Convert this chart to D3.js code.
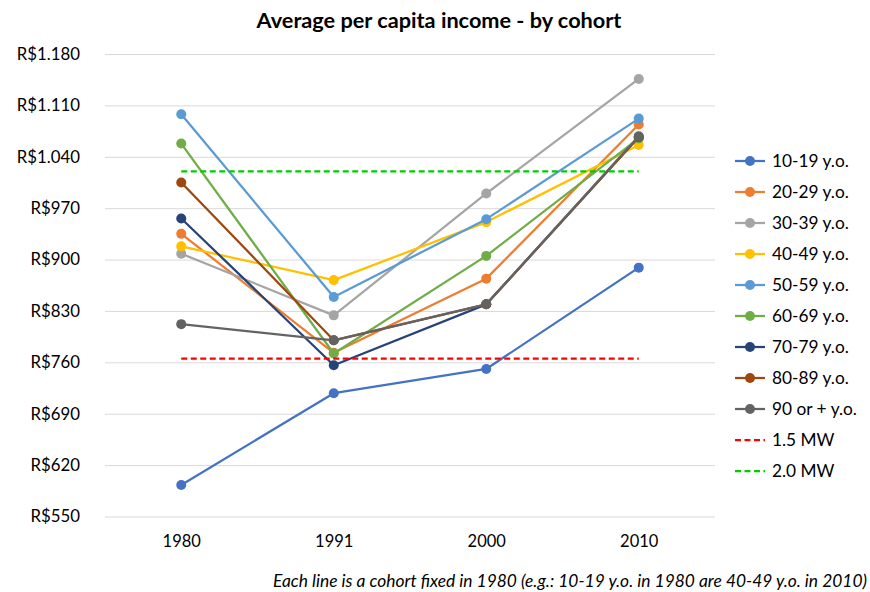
<!DOCTYPE html>
<html>
<head>
<meta charset="utf-8">
<script src="https://cdn.jsdelivr.net/npm/d3@7/dist/d3.min.js"></script>
<style>
  html, body { margin: 0; padding: 0; background: #fff; }
  svg { display: block; font-family: Lato, "Open Sans", sans-serif; }
</style>
</head>
<body>
<svg id="chart" width="870" height="592"></svg>
<script>
// Census years on the x axis
const years = ["1980", "1991", "2000", "2010"];

// Cohorts, labelled by their age in 1980
const cohortNames = ["10-19 y.o.", "20-29 y.o.", "30-39 y.o.", "40-49 y.o.", "50-59 y.o.",
                     "60-69 y.o.", "70-79 y.o.", "80-89 y.o.", "90 or + y.o."];
const cohortColors = ["#4472C4", "#ED7D31", "#A5A5A5", "#FFC000", "#5B9BD5",
                      "#70AD47", "#264478", "#9E480E", "#636363"];

// Average per capita income (R$) of each cohort, per census year
const income10_19 = [593, 718, 751, 889];
const income20_29 = [935, 773, 874, 1084];
const income30_39 = [908, 824, 990, 1146];
const income40_49 = [918, 872, 951, 1056];
const income50_59 = [1098, 849, 955, 1092];
const income60_69 = [1058, 772, 905, 1065];
const income70_79 = [956, 756, 839, 1067];
const income80_89 = [1005, 790, 839, 1067];
const income90plus = [812, 790, 839, 1068];

// Reference levels: multiples of the minimum wage
const refNames = ["1.5 MW", "2.0 MW"];
const refColors = ["#FF0000", "#00CC00"];
const refValues = [765, 1020];

// Y axis ticks
const yTicks = [550, 620, 690, 760, 830, 900, 970, 1040, 1110, 1180];

const cohortValues = [income10_19, income20_29, income30_39, income40_49, income50_59,
                      income60_69, income70_79, income80_89, income90plus];

const svg = d3.select("#chart");
const plot = { left: 105, right: 715, top: 54, bottom: 516.5 };

const x = d3.scalePoint().domain(years).range([plot.left, plot.right]).padding(0.5);
const y = d3.scaleLinear().domain([550, 1180]).range([plot.bottom, plot.top]);

const fmt = v => "R$" + (v >= 1000 ? Math.floor(v / 1000) + "." + String(v % 1000).padStart(3, "0") : v);

// Title
svg.append("text")
  .attr("x", 439).attr("y", 28)
  .attr("text-anchor", "middle")
  .attr("font-size", 21.7).attr("font-weight", "bold").attr("fill", "#000")
  .text("Average per capita income - by cohort");

// Horizontal gridlines and y tick labels
const yAxis = d3.axisLeft(y).tickValues(yTicks).tickSize(-(plot.right - plot.left)).tickFormat(fmt).tickPadding(25);
const gy = svg.append("g").attr("transform", `translate(${plot.left},0)`).call(yAxis);
gy.select(".domain").remove();
gy.selectAll(".tick line").attr("stroke", "#D9D9D9").attr("stroke-width", 1);
gy.selectAll(".tick text").attr("font-size", 16.8).attr("fill", "#000").attr("font-family", "Lato, sans-serif");

// X tick labels
const xAxis = d3.axisBottom(x).tickSize(0).tickPadding(19);
const gx = svg.append("g").attr("transform", `translate(0,${plot.bottom})`).call(xAxis);
gx.select(".domain").remove();
gx.selectAll(".tick text").attr("font-size", 16.5).attr("fill", "#000").attr("font-family", "Lato, sans-serif");

const line = d3.line().x((d, i) => x(years[i])).y(d => y(d));

// Cohort lines with markers
cohortValues.forEach((vals, k) => {
  const g = svg.append("g");
  g.append("path").datum(vals)
    .attr("d", line)
    .attr("fill", "none")
    .attr("stroke", cohortColors[k])
    .attr("stroke-width", 2.25)
    .attr("stroke-linejoin", "round");
  g.selectAll("circle").data(vals).join("circle")
    .attr("cx", (d, i) => x(years[i]))
    .attr("cy", d => y(d))
    .attr("r", 5)
    .attr("fill", cohortColors[k]);
});

// Minimum-wage reference lines
refValues.forEach((v, k) => {
  svg.append("line")
    .attr("x1", x(years[0])).attr("x2", x(years[years.length - 1]))
    .attr("y1", y(v)).attr("y2", y(v))
    .attr("stroke", refColors[k])
    .attr("stroke-width", 2.25)
    .attr("stroke-dasharray", "6,3.5");
});

// Legend
const legend = svg.append("g");
const legendItems = cohortNames.map((n, k) => ({ name: n, color: cohortColors[k], dashed: false }))
  .concat(refNames.map((n, k) => ({ name: n, color: refColors[k], dashed: true })));
legendItems.forEach((it, i) => {
  const ly = 161 + i * 31;
  const g = legend.append("g");
  g.append("line")
    .attr("x1", 735).attr("x2", 765).attr("y1", ly).attr("y2", ly)
    .attr("stroke", it.color).attr("stroke-width", 2.25)
    .attr("stroke-dasharray", it.dashed ? "6,3.5" : null);
  if (!it.dashed) {
    g.append("circle").attr("cx", 750).attr("cy", ly).attr("r", 5).attr("fill", it.color);
  }
  g.append("text")
    .attr("x", 772).attr("y", ly + 6)
    .attr("font-size", 17.3).attr("fill", "#000")
    .text(it.name);
});

// Footnote
svg.append("text")
  .attr("x", 867).attr("y", 587)
  .attr("text-anchor", "end")
  .attr("font-size", 17.4).attr("font-style", "italic").attr("fill", "#000")
  .text("Each line is a cohort fixed in 1980 (e.g.: 10-19 y.o. in 1980 are 40-49 y.o. in 2010)");
</script>
</body>
</html>
